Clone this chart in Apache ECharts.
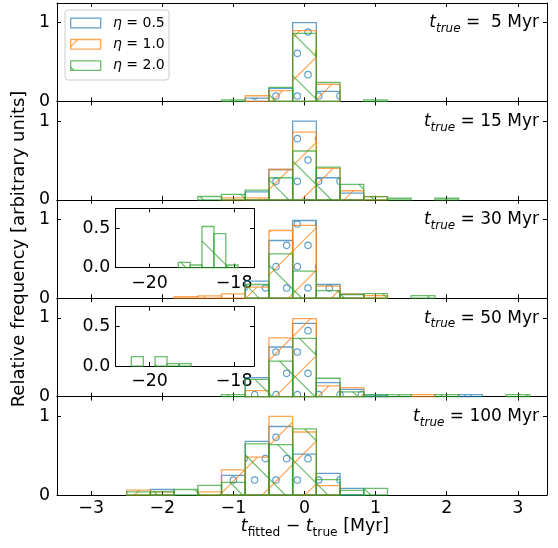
<!DOCTYPE html>
<html><head><meta charset="utf-8">
<script src="https://cdn.jsdelivr.net/npm/echarts@6/dist/echarts.min.js"></script>
<style>html,body{margin:0;padding:0;background:#fff}#c{width:558px;height:548px}</style>
</head><body><div id="c"></div>
<script>
// ---------- data ----------
const binCenters = [-7/3, -2, -5/3, -4/3, -1, -2/3, -1/3, 0, 1/3, 2/3, 1, 4/3, 5/3, 2, 7/3, 8/3, 3];
const binWidth = 1/3;
const seriesNames = ['0.5', '1.0', '2.0'];
const ageLabels = [' 5', '15', '30', '50', '100'];

const eta05_5   = [0,0,0,0,0,0.042,0.165,1.00,0.127,0,0,0,0,0,0,0,0];
const eta10_5   = [0,0,0,0,0,0.072,0.136,0.90,0.216,0,0,0,0,0,0,0,0];
const eta20_5   = [0,0,0,0,0.02,0,0.178,0.865,0.24,0,0.02,0,0,0,0,0,0];

const eta05_15  = [0,0,0,0,0,0.10,0.385,1.00,0.28,0.085,0,0,0,0,0,0,0];
const eta10_15  = [0,0,0,0,0.025,0.025,0.385,0.86,0.40,0.115,0.04,0,0,0,0,0,0];
const eta20_15  = [0,0,0,0.042,0.068,0.123,0.28,0.62,0.415,0.195,0.04,0.02,0,0.02,0,0,0];

const eta05_30  = [0,0,0,0,0,0.216,0.733,0.987,0.174,0.05,0,0,0,0,0,0,0];
const eta10_30  = [0,0,0.02,0.03,0.055,0.14,0.86,0.924,0.153,0.05,0.033,0,0,0,0,0,0];
const eta20_30  = [0,0,0,0,0,0.174,0.564,0.343,0.097,0.045,0.058,0,0.033,0,0,0,0];

const eta05_50  = [0,0,0,0,0,0.24,0.63,0.93,0.178,0.093,0.02,0,0,0,0.025,0,0];
const eta10_50  = [0,0,0,0,0,0.076,0.745,0.99,0.136,0.114,0,0,0.025,0,0,0,0];
const eta20_50  = [0,0,0,0,0.025,0.22,0.45,0.74,0.233,0.06,0.025,0.025,0,0.025,0,0,0.025];

const eta05_100 = [0,0.07,0,0,0.25,0.68,0.87,0.52,0.275,0.085,0,0,0,0,0,0,0];
const eta10_100 = [0.063,0.04,0,0.04,0.32,0.48,1.00,0.80,0.12,0,0,0,0,0,0,0,0];
const eta20_100 = [0.04,0.04,0.07,0.123,0.16,0.65,0.64,0.84,0.195,0.06,0.085,0,0,0,0,0,0];

// inset histograms (eta = 2.0 outliers)
const insetBinWidth = 0.283;
const insetLeft30  = [-19.32, -19.04, -18.76, -18.48, -18.19];
const insetGreen30 = [0.068, 0.034, 0.52, 0.43, 0.034];
const insetLeft50  = [-20.43, -19.87, -19.585, -19.30];
const insetGreen50 = [0.12, 0.12, 0.03, 0.03];

const xTicks = [-3, -2, -1, 0, 1, 2, 3];
const yTicks = [0, 1];
const insetXTicks = [-20, -18];
const insetYTicks = [0, 0.5];

const panels = [
  [eta05_5, eta10_5, eta20_5],
  [eta05_15, eta10_15, eta20_15],
  [eta05_30, eta10_30, eta20_30],
  [eta05_50, eta10_50, eta20_50],
  [eta05_100, eta10_100, eta20_100]
];

// ---------- styles ----------
const FONT = 'DejaVu Sans';
const FS = 17.4;
const colors = ['rgba(31,119,180,0.7)', 'rgba(255,127,14,0.7)', 'rgba(44,160,44,0.7)'];
const hatchKinds = ['o', '/', '\\'];

function makePattern(kind, color) {
  const S = 128, a = S / 6, d = 2 * a;
  const cv = document.createElement('canvas');
  cv.width = S; cv.height = S;
  const ctx = cv.getContext('2d');
  ctx.strokeStyle = color; ctx.lineWidth = 1.2;
  if (kind === 'o') {
    for (let j = -1; j <= 6; j++) {
      const y = 10.667 + j * a;
      const off = (((j % 2) + 2) % 2 === 0) ? 20 : 9.333;
      for (let i = -1; i <= 6; i++) {
        ctx.beginPath(); ctx.arc(off + i * a, y, 3.2, 0, Math.PI * 2); ctx.stroke();
      }
    }
  } else if (kind === '/') {
    for (let k = -4; k <= 8; k++) {
      const c = 32 + k * d;
      ctx.beginPath(); ctx.moveTo(-10, c + 10); ctx.lineTo(S + 10, c - S - 10); ctx.stroke();
    }
  } else {
    for (let k = -5; k <= 5; k++) {
      const c = 39 + k * d;
      ctx.beginPath(); ctx.moveTo(-10, c - 10); ctx.lineTo(S + 10, c + S + 10); ctx.stroke();
    }
  }
  return { image: cv, repeat: 'repeat' };
}
const patterns = hatchKinds.map((k, i) => makePattern(k, colors[i]));

// ---------- layout ----------
const gridLeft = 57, gridWidth = 490, top0 = 3, panelH = 98.4;
const grids = [];
for (let p = 0; p < 5; p++) grids.push({ left: gridLeft, width: gridWidth, top: top0 + p * panelH, height: panelH });
grids.push({ left: 115.7, width: 138.3, top: 208.3, height: 59.4, show: true, backgroundColor: '#fff', borderWidth: 0 });
grids.push({ left: 115.7, width: 138.3, top: 306.7, height: 59.4, show: true, backgroundColor: '#fff', borderWidth: 0 });

const minusFmt = v => (v < 0 ? '\u2212' + (-v) : String(v));
const labelStyle = { fontFamily: FONT, fontSize: FS, color: '#000' };

const xAxes = [], yAxes = [];
for (let g = 0; g < 7; g++) {
  const inset = g >= 5;
  const xt = inset ? insetXTicks : xTicks;
  const yt = inset ? insetYTicks : yTicks;
  ['bottom', 'top'].forEach(pos => {
    const showLab = pos === 'bottom' && (g === 4 || inset);
    const ax = {
      type: 'value', gridIndex: g, position: pos,
      min: inset ? -20.8 : -3.48, max: inset ? -17.53 : 3.41,
      axisLine: { show: true, onZero: false, lineStyle: { color: '#000', width: 1 } },
      axisTick: { show: true, inside: true, length: 4, customValues: xt, lineStyle: { color: '#000', width: 1 } },
      axisLabel: Object.assign({ show: showLab, customValues: xt, formatter: minusFmt, margin: inset ? 7 : 5 }, labelStyle),
      splitLine: { show: false }
    };
    if (g === 4 && pos === 'bottom') {
      ax.name = '{ti|t}{sub|fitted}{n| \u2212 }{ti|t}{sub|true}{n| [Myr]}';
      ax.nameLocation = 'middle';
      ax.nameGap = 19;
      ax.nameTextStyle = {
        fontFamily: FONT, fontSize: FS, color: '#000', padding: [0, 0, 0, 26],
        rich: {
          ti: { fontFamily: FONT, fontSize: FS, fontStyle: 'italic', color: '#000', lineHeight: 24, verticalAlign: 'middle' },
          n: { fontFamily: FONT, fontSize: FS, color: '#000', lineHeight: 24, verticalAlign: 'middle' },
          sub: { fontFamily: FONT, fontSize: 12.2, color: '#000', lineHeight: 11, verticalAlign: 'bottom' }
        }
      };
    }
    xAxes.push(ax);
  });
  ['left', 'right'].forEach(pos => {
    const showLab = pos === 'left';
    const ay = {
      type: 'value', gridIndex: g, position: pos,
      min: 0, max: inset ? 0.75 : 1.25,
      axisLine: { show: true, onZero: false, lineStyle: { color: '#000', width: 1 } },
      axisTick: { show: true, inside: true, length: 4, customValues: yt, lineStyle: { color: '#000', width: 1 } },
      axisLabel: Object.assign({ show: showLab, customValues: yt, margin: inset ? 5.5 : 7,
        formatter: inset ? (v => v.toFixed(1)) : (v => String(v)) }, labelStyle),
      splitLine: { show: false }
    };
    if (g === 2 && pos === 'left') {
      ay.name = 'Relative frequency [arbitrary units]';
      ay.nameLocation = 'middle';
      ay.nameGap = 22;
      ay.nameTextStyle = { fontFamily: FONT, fontSize: 18, color: '#000' };
    }
    yAxes.push(ay);
  });
}

function renderBar(color, pattern) {
  return function (params, api) {
    const p0 = api.coord([api.value(0), 0]);
    const p1 = api.coord([api.value(1), api.value(2)]);
    return {
      type: 'rect',
      shape: { x: p0[0], y: p1[1], width: p1[0] - p0[0], height: p0[1] - p1[1] },
      style: { fill: pattern, stroke: color, lineWidth: 1.3 }
    };
  };
}

const series = [];
panels.forEach((vals, p) => {
  vals.forEach((arr, s) => {
    const data = [];
    binCenters.forEach((c, i) => { if (arr[i] > 0) data.push([c - binWidth / 2, c + binWidth / 2, arr[i]]); });
    series.push({
      type: 'custom', name: 'eta ' + seriesNames[s], xAxisIndex: 2 * p, yAxisIndex: 2 * p,
      encode: { x: [0, 1], y: 2 }, data: data, renderItem: renderBar(colors[s], patterns[s]), z: 2 + s
    });
  });
});
[[insetLeft30, insetGreen30, 5], [insetLeft50, insetGreen50, 6]].forEach(([lefts, hs, g]) => {
  const data = lefts.map((l, i) => [l, l + insetBinWidth, hs[i]]);
  series.push({
    type: 'custom', name: 'eta 2.0 inset', xAxisIndex: 2 * g, yAxisIndex: 2 * g,
    encode: { x: [0, 1], y: 2 }, data: data, renderItem: renderBar(colors[2], patterns[2]), z: 10
  });
});

// ---------- annotations & legend ----------
const graphics = [];
const PF = 17;
const richT = {
  ti: { fontFamily: FONT, fontSize: PF, fontStyle: 'italic', fill: '#000', lineHeight: 24, verticalAlign: 'middle' },
  si: { fontFamily: FONT, fontSize: 12, fontStyle: 'italic', fill: '#000', lineHeight: 11, verticalAlign: 'bottom' },
  n:  { fontFamily: FONT, fontSize: PF, fill: '#000', lineHeight: 24, verticalAlign: 'middle' }
};
ageLabels.forEach((a, p) => {
  graphics.push({
    type: 'text', x: 539, y: top0 + p * panelH + 20, z: 50,
    style: { text: '{ti|t}{si|true}{n| = ' + a + ' Myr}', rich: richT, align: 'right', verticalAlign: 'middle',
      fontFamily: FONT, fontSize: PF, fill: '#000' }
  });
});
graphics.push({ type: 'rect', z: 50, shape: { x: 65, y: 10, width: 104, height: 70, r: 3 },
  style: { fill: 'rgba(255,255,255,0.8)', stroke: '#cccccc', lineWidth: 1 } });
seriesNames.forEach((nm, s) => {
  const yc = 23 + s * 21.3;
  graphics.push({ type: 'rect', z: 51, shape: { x: 70.7, y: yc - 4.8, width: 30, height: 9.6 },
    style: { fill: patterns[s], stroke: colors[s], lineWidth: 1.3 } });
  graphics.push({ type: 'text', z: 51, x: 113, y: yc,
    style: { text: '{i|\u03b7} = ' + nm, rich: { i: { fontFamily: FONT, fontSize: 14, fontStyle: 'italic', fill: '#000' } },
      fontFamily: FONT, fontSize: 14, fill: '#000', align: 'left', verticalAlign: 'middle' } });
});

const option = {
  animation: false,
  backgroundColor: '#fff',
  grid: grids,
  xAxis: xAxes,
  yAxis: yAxes,
  series: series,
  graphic: graphics
};
const chart = echarts.init(document.getElementById('c'), null, { renderer: 'canvas' });
chart.setOption(option);
</script></body></html>
